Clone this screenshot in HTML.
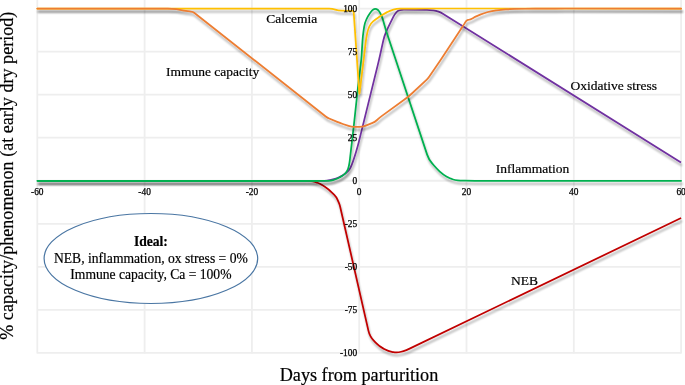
<!DOCTYPE html>
<html><head><meta charset="utf-8"><style>
html,body{margin:0;padding:0;background:#fff;}
body{width:685px;height:385px;overflow:hidden;position:relative;}
svg{position:absolute;left:0;top:0;will-change:transform;}
text{font-family:"Liberation Serif",serif;fill:#000;}
</style></head><body>
<svg width="685" height="385" viewBox="0 0 685 385">
<defs>
<filter id="sh" filterUnits="userSpaceOnUse" x="0" y="0" width="685" height="385">
<feGaussianBlur in="SourceAlpha" stdDeviation="0.8" result="b"/>
<feOffset in="b" dx="0.5" dy="2.6" result="o"/>
<feComponentTransfer in="o" result="s"><feFuncA type="linear" slope="0.33"/></feComponentTransfer>
<feMerge><feMergeNode in="s"/><feMergeNode in="SourceGraphic"/></feMerge>
</filter>
</defs>
<rect width="685" height="385" fill="#fff"/>

<g stroke="#eeeeee" stroke-width="1.8"><line x1="37.30" y1="0" x2="37.30" y2="353.52"/><line x1="144.60" y1="0" x2="144.60" y2="353.52"/><line x1="251.90" y1="0" x2="251.90" y2="353.52"/><line x1="359.20" y1="0" x2="359.20" y2="353.52"/><line x1="466.50" y1="0" x2="466.50" y2="353.52"/><line x1="573.80" y1="0" x2="573.80" y2="353.52"/><line x1="681.10" y1="0" x2="681.10" y2="353.52"/><line x1="37.30" y1="352.92" x2="681.10" y2="352.92"/><line x1="37.30" y1="309.88" x2="681.10" y2="309.88"/><line x1="37.30" y1="266.83" x2="681.10" y2="266.83"/><line x1="37.30" y1="223.79" x2="681.10" y2="223.79"/><line x1="37.30" y1="180.75" x2="681.10" y2="180.75"/><line x1="37.30" y1="137.71" x2="681.10" y2="137.71"/><line x1="37.30" y1="94.67" x2="681.10" y2="94.67"/><line x1="37.30" y1="51.62" x2="681.10" y2="51.62"/><line x1="37.30" y1="8.58" x2="681.10" y2="8.58"/></g>
<ellipse cx="150.9" cy="258.5" rx="106.8" ry="45" fill="#fff" stroke="#4a76a3" stroke-width="1.2"/>
<path d="M37.30,180.75 L306.00,180.75" fill="none" stroke="#00b050" stroke-width="1.75" stroke-linejoin="round" stroke-linecap="butt" filter="url(#sh)"/>
<path d="M306.00,180.75 L308.92,180.75 Q311.00,180.75 313.00,181.32 L313.00,181.32 Q315.00,181.90 316.97,182.58 L317.45,182.75 Q319.90,183.60 322.08,185.01 L324.50,186.58 Q328.70,189.30 332.21,192.86 L334.29,194.97 Q336.40,197.10 337.58,199.86 L338.91,202.96 Q339.70,204.80 340.15,206.75 L368.47,330.83 Q369.10,333.60 370.45,336.10 L370.45,336.10 Q371.80,338.60 373.77,340.65 L375.64,342.59 Q379.10,346.20 383.48,348.61 L384.14,348.97 Q388.20,351.20 392.75,352.05 L393.37,352.17 Q397.30,352.90 401.13,351.76 L403.52,351.05 Q406.40,350.20 409.10,348.90 L681.10,218.00" fill="none" stroke="#c00000" stroke-width="1.75" stroke-linejoin="round" stroke-linecap="butt" filter="url(#sh)"/>
<path d="M37.30,180.75 L318.00,180.75" fill="none" stroke="#00b050" stroke-width="1.75" stroke-linejoin="round" stroke-linecap="butt" filter="url(#sh)"/>
<path d="M318.00,180.75 L324.45,180.75 Q327.00,180.75 329.50,180.22 L329.96,180.13 Q332.00,179.70 334.00,179.10 L334.00,179.10 Q336.00,178.50 337.93,177.69 L338.50,177.45 Q341.00,176.40 343.28,174.94 L343.89,174.55 Q346.00,173.20 347.75,171.40 L347.75,171.40 Q349.50,169.60 350.61,167.35 L350.75,167.05 Q352.00,164.50 352.90,161.81 L353.25,160.75 Q354.50,157.00 355.65,153.22 L356.24,151.28 Q357.70,146.50 358.90,141.65 L377.80,64.85 Q379.00,60.00 380.08,55.12 L383.22,40.88 Q384.30,36.00 386.37,31.45 L388.52,26.73 Q390.40,22.60 392.45,18.55 L393.30,16.87 Q394.50,14.50 396.25,12.50 L396.66,12.03 Q398.00,10.50 400.00,10.10 L400.00,10.10 Q402.00,9.70 404.04,9.72 L426.97,9.97 Q430.00,10.00 433.00,10.40 L433.38,10.45 Q436.00,10.80 438.50,11.65 L438.50,11.65 Q441.00,12.50 443.24,13.90 L681.00,162.60" fill="none" stroke="#7030a0" stroke-width="1.75" stroke-linejoin="round" stroke-linecap="butt" filter="url(#sh)"/>
<path d="M37.30,180.75 L328.92,180.75 Q331.00,180.75 333.00,180.18 L333.00,180.18 Q335.00,179.60 336.89,178.73 L337.50,178.45 Q340.00,177.30 342.28,175.75 L343.22,175.11 Q345.00,173.90 346.25,172.15 L346.31,172.07 Q347.50,170.40 348.15,168.45 L348.15,168.45 Q348.80,166.50 349.16,164.48 L349.20,164.25 Q349.60,162.00 349.86,159.73 L353.32,129.97 Q353.90,125.00 354.43,120.03 L357.67,89.97 Q358.20,85.00 358.82,80.04 L360.68,64.96 Q361.30,60.00 361.61,55.01 L362.49,40.99 Q362.80,36.00 363.52,31.05 L364.14,26.83 Q364.70,23.00 366.35,19.50 L366.56,19.05 Q368.00,16.00 369.95,13.25 L370.88,11.94 Q371.90,10.50 373.35,9.50 L373.35,9.50 Q374.80,8.50 376.45,9.13 L376.50,9.15 Q378.20,9.80 379.16,11.35 L380.00,12.70 Q381.80,15.60 382.72,18.89 L384.36,24.78 Q385.70,29.60 387.27,34.35 L427.13,154.65 Q428.70,159.40 431.96,163.19 L433.76,165.30 Q436.60,168.60 439.80,171.55 L440.14,171.86 Q443.00,174.50 446.40,176.40 L447.40,176.96 Q449.80,178.30 452.40,179.20 L452.48,179.23 Q455.00,180.10 457.65,180.35 L457.65,180.35 Q460.30,180.60 462.96,180.64 L465.15,180.68 Q470.00,180.75 474.85,180.75 L681.10,180.75" fill="none" stroke="#00b050" stroke-width="1.75" stroke-linejoin="round" stroke-linecap="round" filter="url(#sh)"/>
<path d="M37.30,8.50 L329.15,8.50 Q332.30,8.50 335.25,9.60 L335.25,9.60 Q338.20,10.70 341.35,10.72 L352.60,10.79 Q353.60,10.80 353.67,11.80 L359.30,93.00 Q359.40,94.50 359.58,93.01 L363.00,64.96 Q363.60,60.00 364.19,55.03 L365.69,42.31 Q366.20,38.00 367.10,33.75 L367.32,32.70 Q368.00,29.50 369.30,26.50 L369.30,26.50 Q370.60,23.50 373.10,21.39 L373.45,21.09 Q375.80,19.10 378.40,17.45 L378.99,17.08 Q381.00,15.80 383.00,14.50 L383.00,14.50 Q385.00,13.20 387.12,12.10 L387.50,11.90 Q390.00,10.60 392.71,9.82 L393.30,9.65 Q396.60,8.70 400.03,8.67 L415.00,8.54 Q420.00,8.50 425.00,8.50 L681.10,8.50" fill="none" stroke="#ffc000" stroke-width="1.75" stroke-linejoin="round" stroke-linecap="round" filter="url(#sh)"/>
<path d="M37.30,8.50 L167.79,8.50 Q171.90,8.50 175.95,9.20 L176.14,9.23 Q180.00,9.90 183.85,10.60 L185.73,10.94 Q187.70,11.30 189.69,11.45 L190.91,11.55 Q192.90,11.70 194.47,12.94 L325.73,116.46 Q327.30,117.70 329.15,118.47 L337.23,121.84 Q340.00,123.00 342.84,123.97 L348.56,125.93 Q351.40,126.90 354.40,126.90 L359.30,126.90 Q362.30,126.90 365.09,125.81 L372.01,123.09 Q374.80,122.00 377.03,119.99 L378.52,118.64 Q380.00,117.30 381.62,116.13 L404.15,99.83 Q408.20,96.90 411.85,93.49 L426.74,79.57 Q428.20,78.20 429.33,76.55 L437.18,65.03 Q440.00,60.90 442.75,56.72 L462.30,26.97 Q463.40,25.30 464.48,23.62 L465.79,21.56 Q466.60,20.30 468.06,19.96 L469.04,19.74 Q470.50,19.40 471.81,18.67 L472.75,18.15 Q475.00,16.90 477.36,15.88 L480.22,14.64 Q484.00,13.00 488.00,12.00 L488.00,12.00 Q492.00,11.00 496.08,10.41 L496.54,10.34 Q501.00,9.70 505.50,9.40 L505.50,9.40 Q510.00,9.10 514.51,8.96 L515.00,8.95 Q520.00,8.80 525.00,8.75 L535.00,8.65 Q540.00,8.60 545.00,8.58 L555.00,8.52 Q560.00,8.50 565.00,8.50 L681.10,8.50" fill="none" stroke="#ed7d31" stroke-width="1.75" stroke-linejoin="round" stroke-linecap="round" filter="url(#sh)"/>
<g font-size="9.4" stroke="#000" stroke-width="0.25"><text x="357.2" y="11.58" text-anchor="end">100</text><text x="357.2" y="54.62" text-anchor="end">75</text><text x="357.2" y="97.67" text-anchor="end">50</text><text x="357.2" y="140.71" text-anchor="end">25</text><text x="357.2" y="183.75" text-anchor="end">0</text><text x="357.2" y="226.79" text-anchor="end">-25</text><text x="357.2" y="269.83" text-anchor="end">-50</text><text x="357.2" y="312.88" text-anchor="end">-75</text><text x="357.2" y="355.92" text-anchor="end">-100</text><text x="37.30" y="194.6" text-anchor="middle">-60</text><text x="144.60" y="194.6" text-anchor="middle">-40</text><text x="251.90" y="194.6" text-anchor="middle">-20</text><text x="359.20" y="194.6" text-anchor="middle">0</text><text x="466.50" y="194.6" text-anchor="middle">20</text><text x="573.80" y="194.6" text-anchor="middle">40</text><text x="681.10" y="194.6" text-anchor="middle">60</text></g>
<g font-size="13.5" stroke="#000" stroke-width="0.2">
<text x="266.2" y="22.7">Calcemia</text>
<text x="165.9" y="75.9">Immune capacity</text>
<text x="570.4" y="90.4">Oxidative stress</text>
<text x="495.8" y="172.8">Inflammation</text>
<text x="510.9" y="284.7">NEB</text>
</g>
<g font-size="13.6" text-anchor="middle" stroke="#000" stroke-width="0.2">
<text x="150.9" y="245.7" font-weight="bold">Ideal:</text>
<text x="150.9" y="262.9">NEB, inflammation, ox stress = 0%</text>
<text x="150.9" y="278.5">Immune capacity, Ca = 100%</text>
</g>
<text x="359" y="380.8" font-size="18.2" text-anchor="middle" stroke="#000" stroke-width="0.2">Days from parturition</text>
<text transform="translate(13.4,175.7) rotate(-90)" font-size="18.1" text-anchor="middle" stroke="#000" stroke-width="0.2">% capacity/phenomenon (at early dry period)</text>
</svg>
</body></html>
